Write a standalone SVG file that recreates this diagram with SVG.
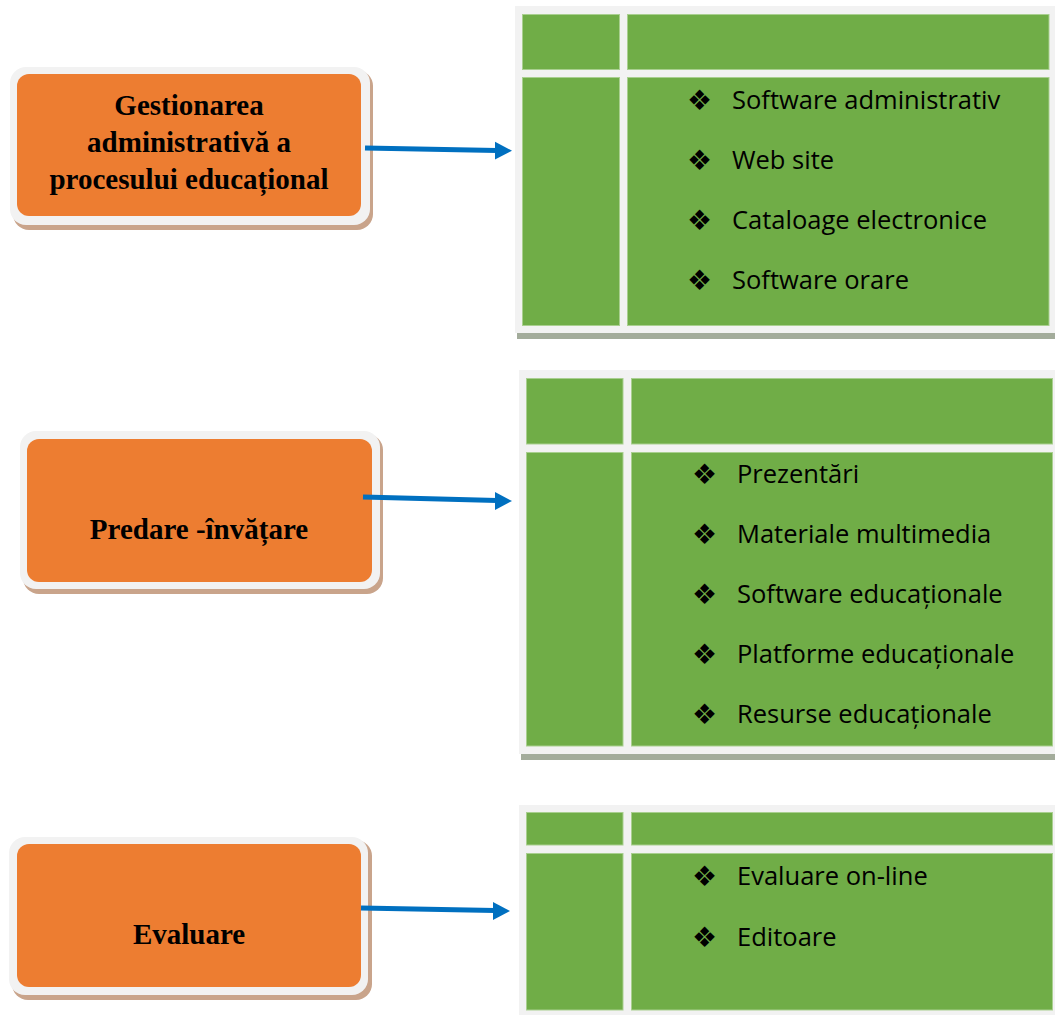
<svg xmlns="http://www.w3.org/2000/svg" width="1055" height="1015" viewBox="0 0 1055 1015">
<style>
.frame{fill:#f2f2f2}
.cell{fill:#70ad47;stroke:#a9cf8f;stroke-width:1}
.tshadow{fill:#a3ac9b}
.bshadow{fill:#c9a48b}
.bframe{fill:#f2f2f2}
.box{fill:#ed7d31}
.lbl{font-family:"Liberation Serif","Times New Roman",serif;font-weight:bold;font-size:29px;fill:#000;text-anchor:middle}
.item{font-family:"Open Sans","Noto Sans",sans-serif;font-size:25.5px;fill:#000}
.bul{font-family:"DejaVu Sans",sans-serif;font-size:28px;fill:#000}
.conn{stroke:#0070c0;stroke-width:5;fill:none}
.head{fill:#0070c0}
</style>
<rect width="1055" height="1015" fill="#fff"/>

<g id="node-gestionarea">
<rect class="bshadow" x="13" y="70" width="360" height="160" rx="16"/>
<rect class="bframe" x="10" y="67" width="360" height="158" rx="16"/>
<rect class="box" x="17" y="74" width="344" height="142" rx="12"/>
<text class="lbl" x="189" y="115">Gestionarea</text>
<text class="lbl" x="189" y="152">administrativă a</text>
<text class="lbl" x="189" y="189">procesului educațional</text>
</g>

<g id="node-predare">
<rect class="bshadow" x="23" y="434" width="360" height="160" rx="16"/>
<rect class="bframe" x="20" y="431" width="360" height="158" rx="16"/>
<rect class="box" x="27" y="439" width="345" height="143" rx="12"/>
<text class="lbl" x="199" y="539">Predare -învățare</text>
</g>

<g id="node-evaluare">
<rect class="bshadow" x="12" y="840" width="360" height="160" rx="16"/>
<rect class="bframe" x="9" y="837" width="359" height="158" rx="16"/>
<rect class="box" x="17" y="844" width="344" height="143" rx="12"/>
<text class="lbl" x="189" y="944">Evaluare</text>
</g>

<g id="table-1">
<rect class="tshadow" x="517" y="333" width="538" height="6"/>
<rect class="frame" x="515" y="6" width="540" height="327"/>
<rect class="cell" x="522.5" y="14.5" width="97" height="55"/>
<rect class="cell" x="627.5" y="14.5" width="421.5" height="55"/>
<rect class="cell" x="522.5" y="77.5" width="97" height="248"/>
<rect class="cell" x="627.5" y="77.5" width="421.5" height="248"/>
<text class="bul" x="687" y="110">❖</text><text class="item" x="732" y="109">Software administrativ</text>
<text class="bul" x="687" y="170">❖</text><text class="item" x="732" y="169">Web site</text>
<text class="bul" x="687" y="230">❖</text><text class="item" x="732" y="229">Cataloage electronice</text>
<text class="bul" x="687" y="290">❖</text><text class="item" x="732" y="289">Software orare</text>
</g>

<g id="table-2">
<rect class="tshadow" x="521" y="754" width="534" height="6"/>
<rect class="frame" x="519" y="370" width="536" height="384"/>
<rect class="cell" x="526.5" y="378.5" width="96.5" height="65.5"/>
<rect class="cell" x="631.5" y="378.5" width="421" height="65.5"/>
<rect class="cell" x="526.5" y="452.5" width="96.5" height="293.5"/>
<rect class="cell" x="631.5" y="452.5" width="421" height="293.5"/>
<text class="bul" x="692" y="484">❖</text><text class="item" x="737" y="483">Prezentări</text>
<text class="bul" x="692" y="544">❖</text><text class="item" x="737" y="543">Materiale multimedia</text>
<text class="bul" x="692" y="604">❖</text><text class="item" x="737" y="603">Software educaționale</text>
<text class="bul" x="692" y="664">❖</text><text class="item" x="737" y="663">Platforme educaționale</text>
<text class="bul" x="692" y="724">❖</text><text class="item" x="737" y="723">Resurse educaționale</text>
</g>

<g id="table-3">
<rect class="frame" x="519" y="805" width="536" height="210"/>
<rect class="cell" x="526.5" y="812.5" width="96.5" height="32.5"/>
<rect class="cell" x="631.5" y="812.5" width="421" height="32.5"/>
<rect class="cell" x="526.5" y="853.5" width="96.5" height="156.5"/>
<rect class="cell" x="631.5" y="853.5" width="421" height="156.5"/>
<text class="bul" x="692" y="886">❖</text><text class="item" x="737" y="885">Evaluare on-line</text>
<text class="bul" x="692" y="947">❖</text><text class="item" x="737" y="946">Editoare</text>
</g>

<g id="connectors">
<line class="conn" x1="365" y1="148" x2="497" y2="150.5"/>
<polygon class="head" points="495,141.7 512,150.7 495,159.5"/>
<line class="conn" x1="363" y1="497" x2="497" y2="500.5"/>
<polygon class="head" points="495,492 512,501 495,510"/>
<line class="conn" x1="361" y1="908" x2="495" y2="910.5"/>
<polygon class="head" points="493,902 510,911 493,920"/>
</g>
</svg>
